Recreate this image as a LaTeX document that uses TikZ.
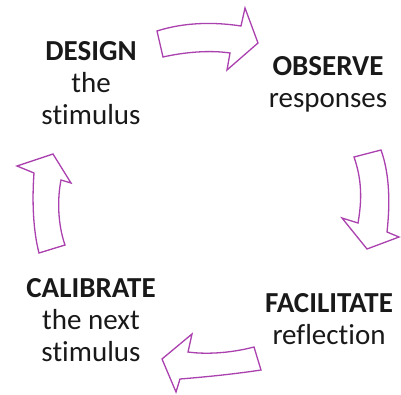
\documentclass[tikz,border=0pt]{standalone}
\usepackage{fontspec}
\setmainfont{Carlito}[Ligatures=NoCommon]
\begin{document}
\begin{tikzpicture}[x=1pt,y=-1pt,
  cyclearrow/.style={draw=arrowpurple,line width=1.3pt,line join=miter,fill=white},
  steplabel/.style={align=center,text=labelgray,font=\fontsize{29}{32}\selectfont,inner sep=0pt}]
\definecolor{arrowpurple}{RGB}{170,65,175}
\definecolor{labelgray}{RGB}{25,25,25}
\useasboundingbox (0,0) rectangle (401,394);
% curved block arrows of the cycle
\draw[cyclearrow] (157,31) .. controls (185,22) and (215,22) .. (241,26) -- (245,8) -- (258,43)
  -- (227,70) -- (230,53) .. controls (210,50) and (185,52) .. (163,57) -- cycle;
\draw[cyclearrow] (354,157) -- (381,150) .. controls (390,175) and (390,205) .. (387,232)
  -- (399,237) -- (367,249) -- (342,218) -- (358,223) .. controls (362,200) and (362,180) .. (354,157) -- cycle;
\draw[cyclearrow] (254,347) -- (261,370) .. controls (235,374) and (205,377) .. (180,379)
  -- (176,392) -- (162,359) -- (192,334) -- (188,352) .. controls (210,355) and (235,352) .. (254,347) -- cycle;
\draw[cyclearrow] (39,253) -- (65,245) .. controls (58,225) and (57,200) .. (61,180)
  -- (71,183) -- (53,154) -- (17,166) -- (34,173) .. controls (32,200) and (33,230) .. (39,253) -- cycle;
% step labels
\node[steplabel] (design) at (91,83) {\textbf{DESIGN}\\the\\stimulus};
\node[steplabel] (observe) at (328,84) {\textbf{OBSERVE}\\responses};
\node[steplabel] (facilitate) at (329,319) {\textbf{FACILITATE}\\reflection};
\node[steplabel] (calibrate) at (91,320) {\textbf{CALIBRATE}\\the next\\stimulus};
\end{tikzpicture}
\end{document}
